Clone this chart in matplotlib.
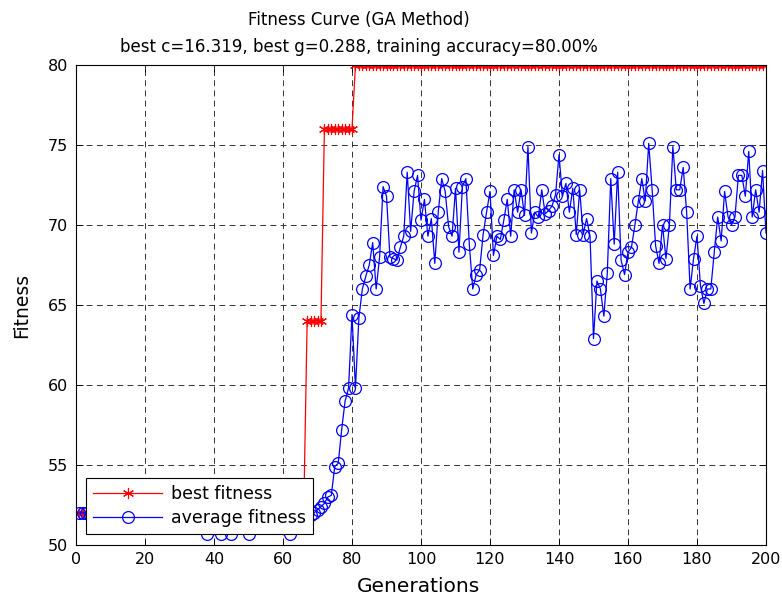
import matplotlib
matplotlib.use("Agg")
import matplotlib.pyplot as plt
import numpy as np

plt.rcParams['font.family'] = ['DejaVu Sans']

generations = list(range(1, 201))

best_fitness = [52.0] * 66 + [64.0] * 5 + [76.0] * 9 + [80.0] * 120

avg_early = [52.0, 52.0, 52.0, 51.9, 51.8, 51.8, 51.7, 51.7, 51.6, 51.6,
             51.5, 51.6, 51.5, 51.4, 51.5, 51.4, 51.5, 51.4, 51.4, 51.5,
             51.4, 51.3, 51.4, 51.4, 51.3, 51.4, 51.3, 51.4, 51.3, 51.3,
             51.4, 51.3, 51.3, 51.4, 51.3, 51.3, 51.2, 50.7, 51.2, 51.3,
             51.2, 50.7, 51.2, 51.3, 50.7, 51.2, 51.3, 51.2, 51.2, 50.7,
             51.2, 51.3, 51.2, 51.3, 51.2, 51.3, 51.2, 51.3, 51.2, 51.2,
             51.3, 50.7, 51.3, 51.4, 51.5, 51.6, 51.7, 51.9, 52.0]
avg_rise = [52.2, 52.4, 52.6, 53.0, 53.1, 54.9, 55.1, 57.2, 59.0, 59.8,
            64.4, 59.8, 64.2, 66.0, 66.8, 67.5, 68.9, 66.0, 68.0, 72.4,
            71.8, 68.0, 67.9, 67.8, 68.6, 69.3, 73.3]
avg_mid = [69.6, 72.1, 73.1, 70.3, 71.6, 69.3, 70.4, 67.6, 70.8, 72.9,
           72.1, 69.9, 69.3, 72.3, 68.3, 72.4, 72.9, 68.8, 66.0, 66.9,
           67.2, 69.4, 70.8, 72.1, 68.1, 69.3, 69.1, 70.3, 71.6, 69.3,
           72.2, 70.8, 72.2, 70.6, 74.9, 69.5, 70.8, 70.5, 72.2, 70.7,
           70.9, 71.2, 71.9, 74.4, 71.8, 72.6, 70.8, 72.3, 69.4, 72.2,
           69.4, 70.4, 69.3]
avg_late = [62.9, 66.5, 66.0, 64.3, 67.0, 72.9, 68.8, 73.3, 67.8, 66.9,
            68.3, 68.6, 70.0, 71.5, 72.9, 71.5, 75.1, 72.2, 68.7, 67.6,
            70.0, 67.9, 70.0, 74.9, 72.2, 72.2, 73.6, 70.8, 66.0, 67.9,
            69.3, 66.2, 65.1, 66.0, 66.0, 68.3, 70.5, 69.0, 72.1, 70.5,
            70.0, 70.5, 73.1, 73.1, 71.8, 74.6, 70.5, 72.2, 70.8, 73.4,
            69.5]
average_fitness = avg_early + avg_rise + avg_mid + avg_late

title_lines = ["Fitness Curve (GA Method)",
               "best c=16.319, best g=0.288, training accuracy=80.00%"]

W, H = 782, 598
fig = plt.figure(figsize=(W / 100, H / 100), dpi=100)
ax = fig.add_axes([76 / W, 1 - 545 / H, 690 / W, 480 / H])

ax.plot(generations, best_fitness, color='#ff0000', marker=(6, 2, 0), markersize=8,
        linewidth=0.9, markeredgewidth=0.8, label='best fitness')
ax.plot(generations, average_fitness, color='#0000ff', marker='o', markersize=8.5,
        markerfacecolor='none', markeredgewidth=0.9, linewidth=0.9,
        label='average fitness')

ax.set_xlim(0, 200)
ax.set_ylim(50, 80)
ax.set_xticks(np.arange(0, 201, 20))
ax.set_yticks(np.arange(50, 81, 5))
ax.tick_params(direction='in', top=True, right=True, labelsize=11.5, length=5,
               width=0.6, colors='black')
ax.tick_params(axis='y', pad=5.5)
ax.tick_params(axis='x', pad=5)
ax.grid(True, color='#333333', linestyle=(0, (6, 4.5)), linewidth=0.7)
for s in ax.spines.values():
    s.set_color('black')
    s.set_linewidth(0.8)

fig.text(418 / W, 1 - 587 / H, 'Generations', fontsize=14.5, ha='center', va='center')
fig.text(22 / W, 1 - 305 / H, 'Fitness', fontsize=13.5, ha='center', va='center',
         rotation=90)
fig.text(359 / W, 1 - 20 / H, title_lines[0], fontsize=12, ha='center', va='center')
fig.text(359 / W, 1 - 46.5 / H, title_lines[1], fontsize=12, ha='center', va='center')

leg = ax.legend(loc='lower left', bbox_to_anchor=(10 / 690, 11 / 480), fontsize=12.5,
                frameon=True, fancybox=False, edgecolor='black', framealpha=1,
                borderaxespad=0, handlelength=4.0, borderpad=0.4,
                labelspacing=0.35, handletextpad=0.5)
leg.get_frame().set_linewidth(0.8)

fig.savefig('out.png', dpi=100)
